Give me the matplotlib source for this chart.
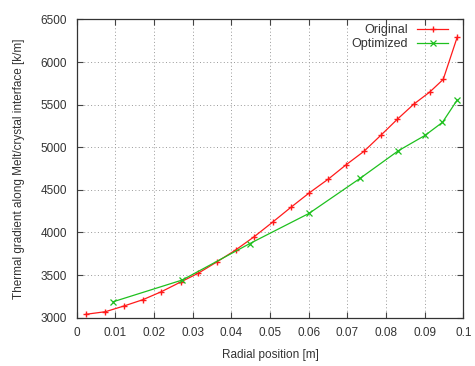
import matplotlib
matplotlib.use("Agg")
import matplotlib.pyplot as plt

# Original profile
r_orig = [0.0024, 0.0074, 0.0122, 0.0171, 0.0219, 0.0269, 0.0314, 0.0362,
          0.0411, 0.0459, 0.0507, 0.0554, 0.0602, 0.0651, 0.0697, 0.0743,
          0.0788, 0.0829, 0.0872, 0.0913, 0.0948, 0.0984]
g_orig = [3040, 3070, 3137, 3211, 3305, 3419, 3521, 3653,
          3794, 3950, 4122, 4295, 4466, 4627, 4795, 4952,
          5146, 5327, 5506, 5647, 5796, 6289]

# Optimized profile
r_opt = [0.0095, 0.0273, 0.0447, 0.0601, 0.0733, 0.0832, 0.0901, 0.0946, 0.0984]
g_opt = [3188, 3442, 3868, 4224, 4635, 4959, 5139, 5292, 5553]

xticks = [0, 0.01, 0.02, 0.03, 0.04, 0.05, 0.06, 0.07, 0.08, 0.09, 0.1]
xlabels = ["0", "0.01", "0.02", "0.03", "0.04", "0.05", "0.06", "0.07", "0.08", "0.09", "0.1"]
yticks = [3000, 3500, 4000, 4500, 5000, 5500, 6000, 6500]

plt.rcParams['font.family'] = ['Liberation Sans', 'DejaVu Sans']
plt.rcParams['font.size'] = 8.5

fig = plt.figure(figsize=(4.75, 3.66), dpi=100)
ax = fig.add_axes([0.1615, 0.132, 0.8139, 0.815])

ax.plot(r_orig, g_orig, color='#ff1a1a', lw=0.9, marker='+', ms=5, mew=1.0, label='Original')
ax.plot(r_opt, g_opt, color='#1ec01e', lw=0.9, marker='x', ms=4.5, mew=0.9, label='Optimized')

ax.set_xlim(0, 0.1)
ax.set_ylim(3000, 6500)
ax.set_xticks(xticks)
ax.set_xticklabels(xlabels)
ax.set_yticks(yticks)
ax.tick_params(direction='in', top=True, right=True, length=4, width=0.8,
               colors='#444444', labelcolor='#333333', pad=7)
ax.grid(True, linestyle=(0, (1, 2.5)), color='#999999', lw=0.7)
for s in ax.spines.values():
    s.set_color('#333333')
    s.set_linewidth(0.9)

ax.set_xlabel("Radial position [m]", color='#333333', labelpad=7)
ax.set_ylabel("Thermal gradient along Melt/crystal interface [k/m]", color='#333333', labelpad=11)

leg = ax.legend(loc='upper right', frameon=False, markerfirst=False,
                handlelength=2.6, borderaxespad=0.0, labelspacing=0.2,
                handletextpad=0.8, bbox_to_anchor=(0.973, 1.0))
for t in leg.get_texts():
    t.set_color('#333333')
    t.set_fontsize(9)

fig.savefig("out.png", dpi=100)
